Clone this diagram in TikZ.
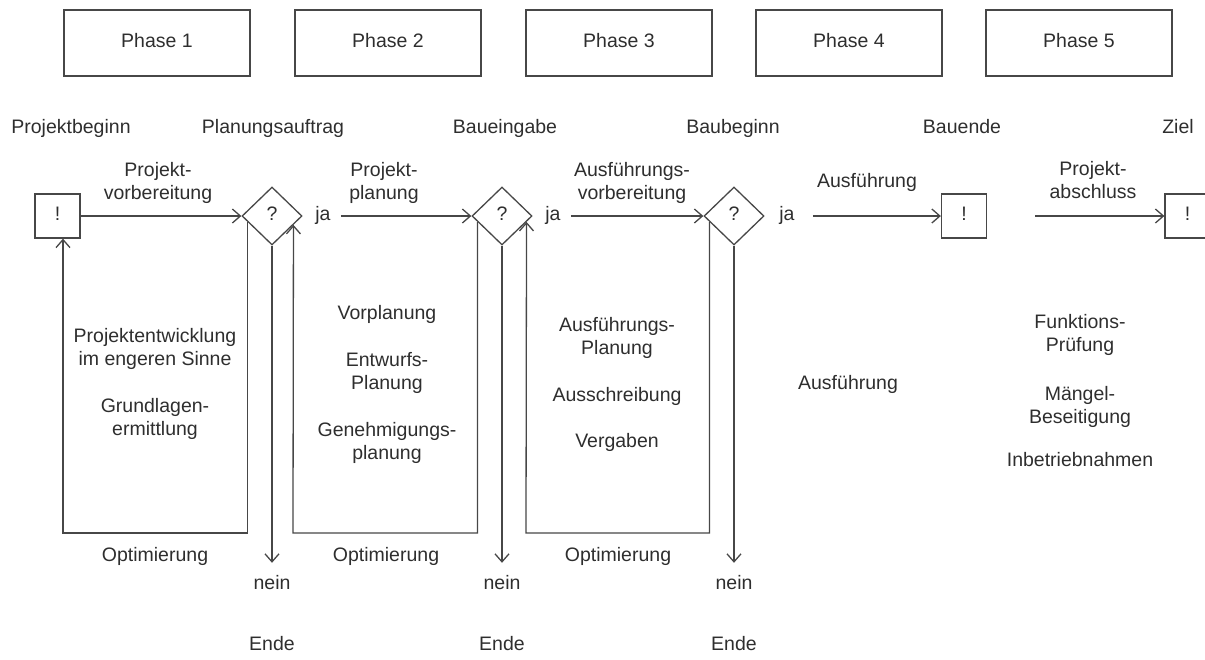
\documentclass[tikz,border=0pt]{standalone}
\usepackage{fontspec}
\setmainfont{Liberation Sans}
\usetikzlibrary{shapes.geometric,arrows.meta,calc}

\begin{document}
\begin{tikzpicture}[x=1pt,y=-1pt,
  ink/.style={draw=black!72, line width=1.3pt},
  arr/.style={ink, -{Straight Barb[length=8pt,width=14pt,line width=1.3pt]}},
  txt/.style={text=black!82, align=center, inner sep=0pt,
    font=\fontsize{19.5}{23}\selectfont},
  phasebox/.style={ink, txt, minimum width=186pt, minimum height=66pt},
  flag/.style={ink, txt, minimum width=45pt, minimum height=44pt},
  decide/.style={ink, txt, diamond, minimum width=60pt, minimum height=58pt},
  jalbl/.style={txt, inner xsep=10pt},
]
\useasboundingbox (0,0) rectangle (1205,659);

% phase headers
\node[phasebox] (ph1) at (157,43)  {Phase 1\strut};
\node[phasebox] (ph2) at (388,43)  {Phase 2\strut};
\node[phasebox] (ph3) at (619,43)  {Phase 3\strut};
\node[phasebox] (ph4) at (849,43)  {Phase 4\strut};
\node[phasebox] (ph5) at (1079,43) {Phase 5\strut};

% milestones
\node[txt] (m1) at (71,129)   {Projektbeginn\strut};
\node[txt] (m2) at (273,129)  {Planungsauftrag\strut};
\node[txt] (m3) at (505,129)  {Baueingabe\strut};
\node[txt] (m4) at (733,129)  {Baubeginn\strut};
\node[txt] (m5) at (962,129)  {Bauende\strut};
\node[txt] (m6) at (1178,129) {Ziel\strut};

% main row
\node[flag]   (s0)  at (57.5,216) {!\strut};
\node[decide] (d1)  at (272,216)  {?\strut};
\node[jalbl]  (ja1) at (323,216)  {ja\strut};
\node[decide] (d2)  at (502,216)  {?\strut};
\node[jalbl]  (ja2) at (553,216)  {ja\strut};
\node[decide] (d3)  at (734,216)  {?\strut};
\node[jalbl]  (ja3) at (787,216)  {ja\strut};
\node[flag]   (f4)  at (964,216)  {!\strut};
\coordinate   (a5)  at (1035,216);
\node[flag]   (f5)  at (1187.5,216) {!\strut};

\draw[arr] (s0) -- (d1);
\draw[arr] (ja1) -- (d2);
\draw[arr] (ja2) -- (d3);
\draw[arr, shorten <=8pt] (ja3) -- (f4);
\draw[arr] (a5) -- (f5);

% activity labels above the row
\node[txt] (t1) at (158,183.5)  {Projekt-\strut\\vorbereitung\strut};
\node[txt] (t2) at (384,183.5)  {Projekt-\strut\\planung\strut};
\node[txt] (t3) at (632,183.5)  {Ausführungs-\strut\\vorbereitung\strut};
\node[txt] (t4) at (867,183)    {Ausführung\strut};
\node[txt] (t5) at (1093,182)   {Projekt-\strut\\abschluss\strut};

% optimisation loops
\coordinate (l1b) at (63,533);
\coordinate (l2b) at (293,533);
\coordinate (l3b) at (526,533);
\draw[arr] ($(d1.west)!0.2!(d1.south)$) |- (l1b) -- (l1b |- s0.south);
\draw[arr] ($(d2.west)!0.2!(d2.south)$) |- (l2b) -- ($(d1.east)!0.3!(d1.south)$);
\draw[arr] ($(d3.west)!0.2!(d3.south)$) |- (l3b) -- ($(d2.east)!0.2!(d2.south)$);

\node[txt] (o1) at (155,557) {Optimierung\strut};
\node[txt] (o2) at (386,557) {Optimierung\strut};
\node[txt] (o3) at (618,557) {Optimierung\strut};

% exits
\node[txt] (n1) at (272,585) {nein\strut};
\node[txt] (n2) at (502,585) {nein\strut};
\node[txt] (n3) at (734,585) {nein\strut};
\draw[arr, shorten >=10.5pt] (d1.south) -- (n1.north);
\draw[arr, shorten >=10.5pt] (d2.south) -- (n2.north);
\draw[arr, shorten >=10.5pt] (d3.south) -- (n3.north);
\node[txt] (e1) at (272,646) {Ende\strut};
\node[txt] (e2) at (502,646) {Ende\strut};
\node[txt] (e3) at (734,646) {Ende\strut};

% phase contents
\node[txt] (c11) at (155,349.5) {Projektentwicklung\strut\\im engeren Sinne\strut};
\node[txt] (c12) at (155,419)   {Grundlagen-\strut\\ermittlung\strut};
\node[txt] (c21) at (387,315)   {Vorplanung\strut};
\node[txt] (c22) at (387,373.5) {Entwurfs-\strut\\Planung\strut};
\node[txt] (c23) at (387,443.5) {Genehmigungs-\strut\\planung\strut};
\node[txt] (c31) at (617,338)   {Ausführungs-\strut\\Planung\strut};
\node[txt] (c32) at (617,397)   {Ausschreibung\strut};
\node[txt] (c33) at (617,443)   {Vergaben\strut};
\node[txt] (c41) at (848,385)   {Ausführung\strut};
\node[txt] (c51) at (1080,335.5) {Funktions-\strut\\Prüfung\strut};
\node[txt] (c52) at (1080,407.5) {Mängel-\strut\\Beseitigung\strut};
\node[txt] (c53) at (1080,462)   {Inbetriebnahmen\strut};
\end{tikzpicture}
\end{document}
